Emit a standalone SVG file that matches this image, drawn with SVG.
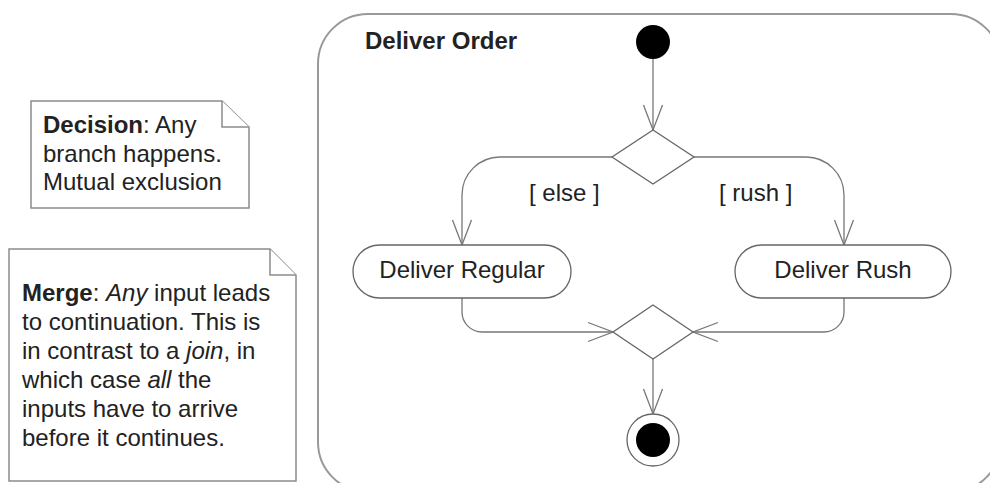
<svg xmlns="http://www.w3.org/2000/svg" width="990" height="483" viewBox="0 0 990 483">
<style>
text{font-family:"Liberation Sans",Arial,sans-serif;font-size:24px;fill:#222}
.b{font-weight:bold}
.i{font-style:italic}
.note{fill:#fff;stroke:#8c8c8c;stroke-width:1.5}
.frame{fill:#fff;stroke:#999;stroke-width:2}
.act{fill:#fff;stroke:#666;stroke-width:1.3}
.dia{fill:#fff;stroke:#666;stroke-width:1.3}
.edge{fill:none;stroke:#777;stroke-width:1.3}
</style>
<defs>
<marker id="arr" markerUnits="userSpaceOnUse" markerWidth="30" markerHeight="24" refX="0" refY="0" viewBox="-27 -12 30 24" orient="auto">
<path d="M -25 -9.5 L 0 0 L -25 9.5" fill="none" stroke="#777" stroke-width="1.3"/>
</marker>
</defs>
<rect width="990" height="483" fill="#fff"/>
<g id="frame">
<rect class="frame" x="318" y="14" width="683" height="478" rx="50"/>
<text class="b" x="365" y="49">Deliver Order</text>
</g>
<g id="note-decision">
<path class="note" d="M31 101 H222 L249 127 V208 H31 Z"/>
<path class="note" d="M222 101 V127 H249"/>
<text x="43" y="133"><tspan class="b">Decision</tspan>: Any</text>
<text x="43" y="161.5">branch happens.</text>
<text x="43" y="190">Mutual exclusion</text>
</g>
<g id="note-merge">
<path class="note" d="M9 249 H270 L296 275 V481 H9 Z"/>
<path class="note" d="M270 249 V275 H296"/>
<text x="22" y="301"><tspan class="b">Merge</tspan>: <tspan class="i">Any</tspan> input leads</text>
<text x="22" y="330">to continuation. This is</text>
<text x="22" y="359">in contrast to a <tspan class="i">join</tspan>, in</text>
<text x="22" y="388">which case <tspan class="i">all</tspan> the</text>
<text x="22" y="417">inputs have to arrive</text>
<text x="22" y="446">before it continues.</text>
</g>
<g id="connectors">
<path class="edge" d="M653 59 V130" marker-end="url(#arr)"/>
<path class="edge" d="M612 157 H500 A38 38 0 0 0 462 195 V245" marker-end="url(#arr)"/>
<path class="edge" d="M694 157 H806 A38 38 0 0 1 844 195 V245" marker-end="url(#arr)"/>
<path class="edge" d="M462 298 V312 A20 20 0 0 0 482 332 H613" marker-end="url(#arr)"/>
<path class="edge" d="M844 298 V312 A20 20 0 0 1 824 332 H693" marker-end="url(#arr)"/>
<path class="edge" d="M653 359 V414" marker-end="url(#arr)"/>
<text x="529" y="201">[ else ]</text>
<text x="719" y="201">[ rush ]</text>
</g>
<g id="start">
<circle cx="653" cy="42" r="17" fill="#000"/>
</g>
<g id="decision">
<path class="dia" d="M653 130 L694 157 L653 184 L612 157 Z"/>
</g>
<g id="deliver-regular">
<rect class="act" x="353" y="245" width="218" height="53" rx="26.5"/>
<text x="462" y="278" text-anchor="middle">Deliver Regular</text>
</g>
<g id="deliver-rush">
<rect class="act" x="735" y="245" width="216" height="53" rx="26.5"/>
<text x="843" y="278" text-anchor="middle">Deliver Rush</text>
</g>
<g id="merge">
<path class="dia" d="M653 305 L693 332 L653 359 L613 332 Z"/>
</g>
<g id="end">
<circle cx="653" cy="440" r="26" fill="#fff" stroke="#666" stroke-width="1.3"/>
<circle cx="653" cy="440" r="17" fill="#000"/>
</g>
</svg>
